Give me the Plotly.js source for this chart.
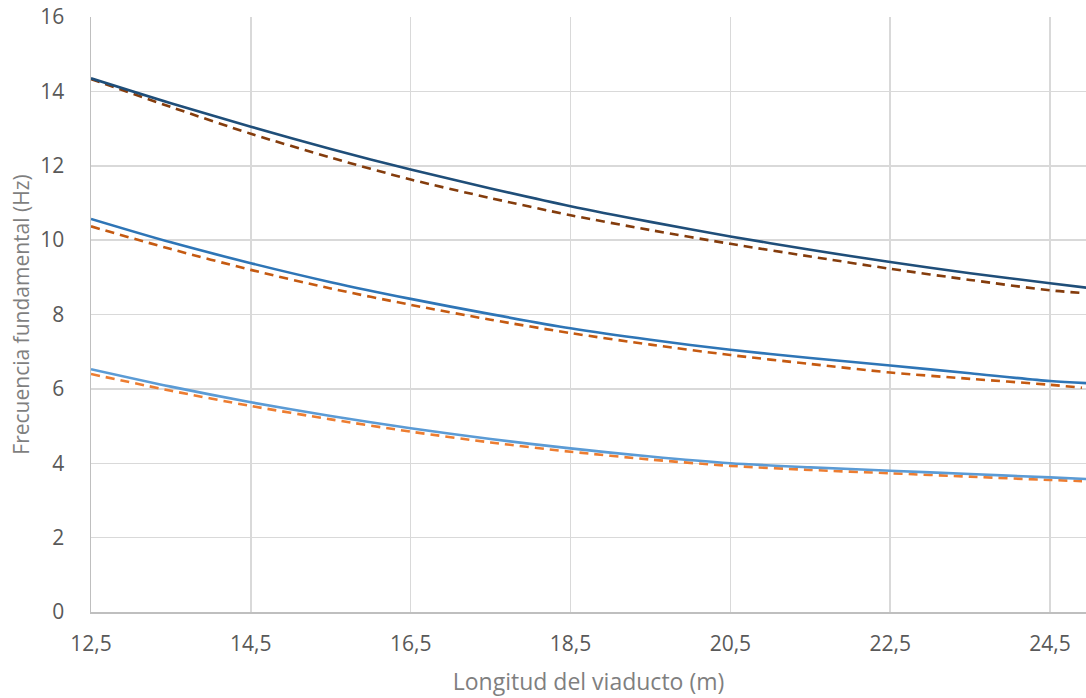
<!DOCTYPE html>
<html>
<head>
<meta charset="utf-8">
<script src="https://cdn.plot.ly/plotly-3.0.1.min.js"></script>
<style>html,body{margin:0;padding:0;background:#fff;}#chart{width:1086px;height:698px;}</style>
</head>
<body>
<div id="chart"></div>
<script>
// Longitud del viaducto (m)
const xFull = [12.5, 13.5, 14.5, 15.5, 16.5, 17.5, 18.5, 19.5, 20.5, 21.5, 22.5, 23.5, 24.5, 25];
const xDash = [12.5, 13.5, 14.5, 15.5, 16.5, 17.5, 18.5, 19.5, 20.5, 21.5, 22.5, 23.5, 24.5, 24.9];

// Frecuencia fundamental (Hz)
const altaSolid   = [14.35, 13.68, 13.05, 12.45, 11.90, 11.39, 10.91, 10.49, 10.10, 9.74, 9.41, 9.11, 8.84, 8.71];
const altaDash    = [14.33, 13.58, 12.86, 12.22, 11.63, 11.13, 10.67, 10.27, 9.90, 9.56, 9.23, 8.93, 8.65, 8.58];
const mediaSolid  = [10.57, 9.94, 9.38, 8.87, 8.42, 8.01, 7.63, 7.32, 7.05, 6.83, 6.63, 6.42, 6.21, 6.15];
const mediaDash   = [10.37, 9.76, 9.20, 8.70, 8.26, 7.86, 7.50, 7.19, 6.91, 6.67, 6.44, 6.27, 6.11, 6.03];
const bajaSolid   = [6.53, 6.06, 5.64, 5.27, 4.94, 4.65, 4.40, 4.18, 4.00, 3.89, 3.80, 3.71, 3.62, 3.57];
const bajaDash    = [6.40, 5.95, 5.54, 5.18, 4.85, 4.56, 4.31, 4.10, 3.93, 3.82, 3.73, 3.64, 3.55, 3.52];

const xTickVals = [12.5, 14.5, 16.5, 18.5, 20.5, 22.5, 24.5];
const xTickText = ['12,5', '14,5', '16,5', '18,5', '20,5', '22,5', '24,5'];
const yTickVals = [0, 2, 4, 6, 8, 10, 12, 14, 16];

function tr(x, y, color, dashed) {
  return {
    x: x, y: y, type: 'scatter', mode: 'lines',
    line: {color: color, width: 2.6, shape: 'spline', smoothing: 0.8, dash: dashed ? '9px,6px' : 'solid'},
    hoverinfo: 'skip', showlegend: false
  };
}

const data = [
  tr(xDash, bajaDash, '#ED7D31', true),
  tr(xFull, bajaSolid, '#5B9BD5', false),
  tr(xDash, mediaDash, '#C55A11', true),
  tr(xFull, mediaSolid, '#2E75B6', false),
  tr(xDash, altaDash, '#843C0C', true),
  tr(xFull, altaSolid, '#1F4E79', false)
];

const fam = '"Open Sans", "Liberation Sans", sans-serif';

const layout = {
  width: 1086, height: 698,
  margin: {l: 91, r: 0, t: 17, b: 86},
  paper_bgcolor: '#ffffff', plot_bgcolor: '#ffffff',
  font: {family: fam, color: '#595959', size: 21},
  xaxis: {
    range: [12.5, 24.95],
    tickvals: xTickVals, ticktext: xTickText,
    showgrid: true, gridcolor: '#D9D9D9', gridwidth: 1.5,
    showline: true, linecolor: '#BFBFBF', linewidth: 1.5,
    zeroline: false,
    ticks: 'outside', ticklen: 12, tickcolor: 'rgba(0,0,0,0)',
    tickfont: {family: fam, color: '#595959', size: 21},
    title: {text: 'Longitud del viaducto (m)', font: {family: fam, color: '#7F7F7F', size: 23}, standoff: 18}
  },
  yaxis: {
    range: [0, 16],
    tickvals: yTickVals,
    showgrid: true, gridcolor: '#D9D9D9', gridwidth: 1.5,
    showline: true, linecolor: '#BFBFBF', linewidth: 1.5,
    zeroline: false,
    ticks: 'outside', ticklen: 21, tickcolor: 'rgba(0,0,0,0)',
    tickfont: {family: fam, color: '#595959', size: 21},
    title: {text: 'Frecuencia fundamental (Hz)', font: {family: fam, color: '#7F7F7F', size: 21}, standoff: 5}
  }
};

Plotly.newPlot('chart', data, layout, {staticPlot: true, displayModeBar: false});
</script>
</body>
</html>
